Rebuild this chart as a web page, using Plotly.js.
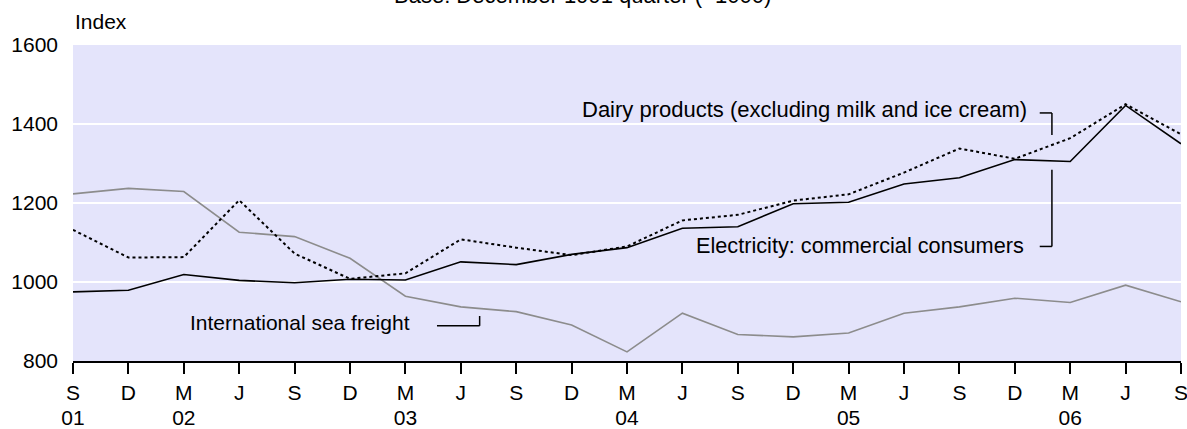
<!DOCTYPE html>
<html>
<head>
<meta charset="utf-8">
<script src="https://cdn.plot.ly/plotly-3.0.1.min.js"></script>
<style>
html,body{margin:0;padding:0;background:#fff;}
#chart{width:1187px;height:429px;}
</style>
</head>
<body>
<div id="chart"></div>
<script>
// Quarterly index values, Sep 2001 – Sep 2006 (Base: December 1991 quarter = 1000)
const quarterLetters = ['S','D','M','J','S','D','M','J','S','D','M','J','S','D','M','J','S','D','M','J','S'];
const yearLabels     = ['01','','02','','','','03','','','','04','','','','05','','','','06','',''];
const electricity = [975,979,1019,1004,998,1007,1005,1051,1044,1070,1087,1136,1140,1198,1202,1248,1264,1310,1305,1447,1350];
const dairy       = [1132,1062,1063,1207,1072,1008,1022,1108,1087,1068,1090,1156,1170,1206,1222,1277,1338,1312,1364,1450,1374];
const seaFreight  = [1223,1237,1229,1126,1115,1060,964,937,925,891,823,921,867,861,871,921,937,959,948,992,950];

const idx = quarterLetters.map((_, i) => i);
const FONT = 'Liberation Sans, Arial, sans-serif';
const TXT = {family: FONT, size: 21, color: '#000'};

const traces = [
  {x: idx, y: seaFreight, type: 'scatter', mode: 'lines', line: {color: '#8c8c8c', width: 1.6}, hoverinfo: 'skip'},
  {x: idx, y: electricity, type: 'scatter', mode: 'lines', line: {color: '#000', width: 1.6}, hoverinfo: 'skip'},
  {x: idx, y: dairy, type: 'scatter', mode: 'lines', line: {color: '#000', width: 2, dash: 'dot'}, hoverinfo: 'skip'},
  // invisible trace on the year axis so it renders
  {x: idx, y: seaFreight, xaxis: 'x2', type: 'scatter', mode: 'lines', line: {width: 0}, opacity: 0, hoverinfo: 'skip', showlegend: false}
];

const leader = {color: '#000', width: 1.5};
const layout = {
  width: 1187, height: 429,
  margin: {l: 73, r: 6, t: 45, b: 68},
  paper_bgcolor: '#ffffff',
  plot_bgcolor: '#e4e4fb',
  showlegend: false,
  font: TXT,
  xaxis: {
    range: [0, 20], tickmode: 'array', tickvals: idx, ticktext: quarterLetters,
    ticks: 'outside', ticklen: 11, tickwidth: 2, tickcolor: '#000',
    showline: true, linecolor: '#000', linewidth: 2,
    showgrid: false, zeroline: false, tickfont: TXT, ticklabelstandoff: 1,
    ticklabeloverflow: 'allow'
  },
  xaxis2: {
    range: [0, 20], overlaying: 'x', side: 'bottom', anchor: 'y',
    tickmode: 'array', tickvals: idx, ticktext: yearLabels,
    ticks: 'outside', ticklen: 38, tickcolor: 'rgba(0,0,0,0)', showline: false, showgrid: false, zeroline: false,
    tickfont: TXT, ticklabeloverflow: 'allow'
  },
  yaxis: {
    range: [800, 1600], tickmode: 'array', tickvals: [800, 1000, 1200, 1400, 1600],
    ticks: '', showline: false, showgrid: true, gridcolor: '#ffffff', gridwidth: 2,
    zeroline: false, tickfont: TXT, ticklabelstandoff: 14
  },
  annotations: [
    {text: 'Base: December 1991 quarter (=1000)', xref: 'paper', yref: 'paper', x: 0.46, y: 1.157,
     xanchor: 'center', yanchor: 'middle', showarrow: false, font: {family: FONT, size: 22, color: '#000'}},
    {text: 'Index', xref: 'paper', yref: 'paper', x: 0.0, y: 1.073,
     xanchor: 'left', yanchor: 'middle', showarrow: false, font: TXT},
    {text: 'Dairy products (excluding milk and ice cream)', xref: 'x', yref: 'y', x: 17.26, y: 1436,
     xanchor: 'right', yanchor: 'middle', showarrow: false, font: {family: FONT, size: 22, color: '#000'}},
    {text: 'Electricity: commercial consumers', xref: 'x', yref: 'y', x: 17.2, y: 1092,
     xanchor: 'right', yanchor: 'middle', showarrow: false, font: {family: FONT, size: 21.7, color: '#000'}},
    {text: 'International sea freight', xref: 'x', yref: 'y', x: 6.12, y: 897,
     xanchor: 'right', yanchor: 'middle', showarrow: false, font: TXT}
  ],
  shapes: [
    // Dairy leader
    {type: 'line', xref: 'x', yref: 'y', x0: 17.45, x1: 17.67, y0: 1428, y1: 1428, line: leader},
    {type: 'line', xref: 'x', yref: 'y', x0: 17.67, x1: 17.67, y0: 1428, y1: 1372, line: leader},
    // Electricity leader
    {type: 'line', xref: 'x', yref: 'y', x0: 17.67, x1: 17.67, y0: 1284, y1: 1090, line: leader},
    {type: 'line', xref: 'x', yref: 'y', x0: 17.45, x1: 17.67, y0: 1090, y1: 1090, line: leader},
    // Sea freight leader
    {type: 'line', xref: 'x', yref: 'y', x0: 6.57, x1: 7.34, y0: 889, y1: 889, line: leader},
    {type: 'line', xref: 'x', yref: 'y', x0: 7.34, x1: 7.34, y0: 889, y1: 914, line: leader}
  ]
};

Plotly.newPlot('chart', traces, layout, {staticPlot: true, displayModeBar: false});
</script>
</body>
</html>
